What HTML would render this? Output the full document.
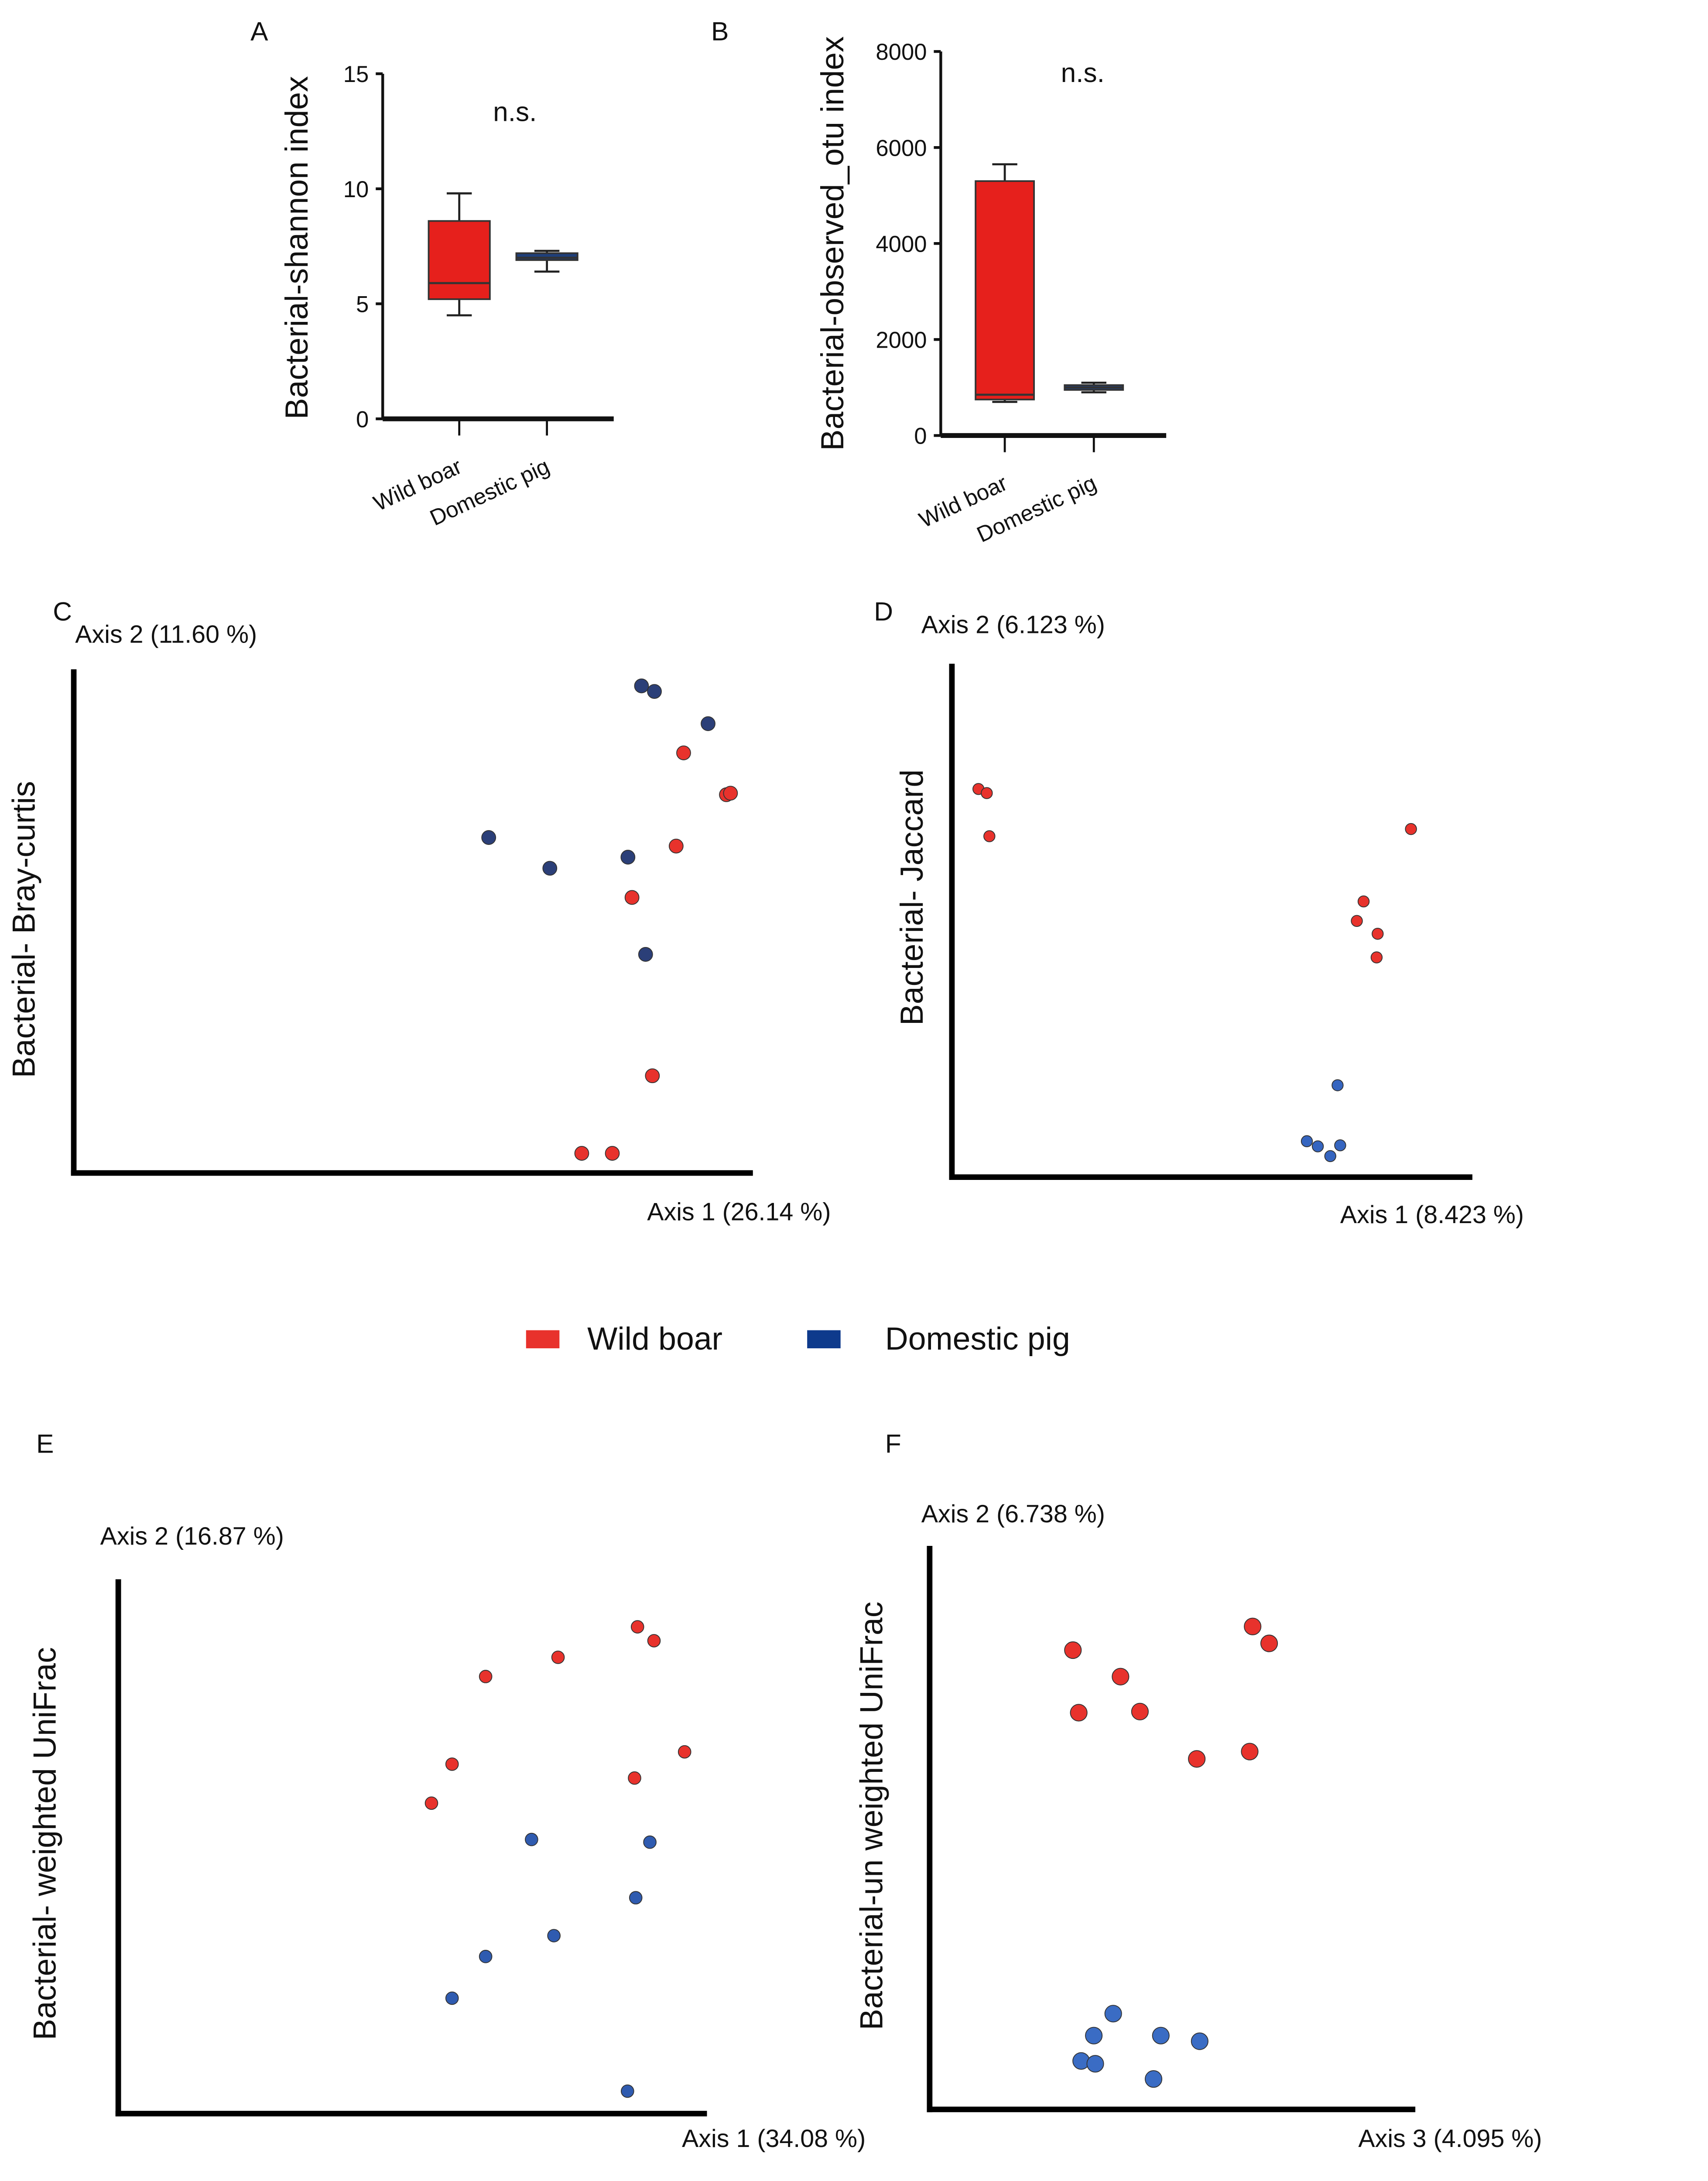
<!DOCTYPE html>
<html><head><meta charset="utf-8">
<style>
html,body{margin:0;padding:0;background:#fff;width:3915px;height:5442px;overflow:hidden;}
svg{display:block;font-family:"Liberation Sans",Arial,sans-serif;}
</style></head>
<body>
<svg id="fig" width="3915" height="5442" viewBox="0 0 1227 1706" preserveAspectRatio="xMinYMin meet" xmlns="http://www.w3.org/2000/svg"></svg>
<script>
// ---- Data ----
const boxCategories = ["Wild boar", "Domestic pig"];
// [min, q1, median, q3, max]
const shannonWild = [4.5, 5.2, 5.9, 8.6, 9.8];
const shannonDomestic = [6.4, 6.9, 7.0, 7.2, 7.3];
const shannonTicks = [0, 5, 10, 15];
const otuWild = [700, 750, 850, 5300, 5650];
const otuDomestic = [900, 950, 1000, 1050, 1100];
const otuTicks = [0, 2000, 4000, 6000, 8000];

const brayWildX = [89.8, 96.1, 96.7, 88.7, 82.2, 85.2, 74.8, 79.3];
const brayWildY = [83.4, 75.1, 75.4, 64.9, 54.7, 19.3, 3.9, 3.9];
const brayDomX = [83.6, 85.5, 93.4, 61.1, 70.1, 81.6, 84.2];
const brayDomY = [96.7, 95.6, 89.2, 66.6, 60.5, 62.7, 43.4];

const jacWildX = [5.1, 6.7, 7.2, 88.2, 79.1, 77.8, 81.8, 81.6];
const jacWildY = [75.6, 74.8, 66.4, 67.8, 53.7, 49.9, 47.4, 42.8];
const jacDomX = [74.1, 68.2, 70.3, 74.6, 72.7];
const jacDomY = [17.9, 7.0, 6.0, 6.2, 4.1];

const wuWildX = [88.2, 91.0, 74.7, 62.4, 96.2, 56.7, 87.7, 53.2];
const wuWildY = [91.1, 88.5, 85.4, 81.8, 67.7, 65.4, 62.8, 58.1];
const wuDomX = [70.2, 90.3, 87.9, 74.0, 62.4, 56.7, 86.5];
const wuDomY = [51.3, 50.8, 40.4, 33.3, 29.4, 21.6, 4.2];

const uuWildX = [29.5, 39.3, 30.7, 43.3, 66.5, 69.9, 65.9, 55.0];
const uuWildY = [81.5, 76.8, 70.4, 70.6, 85.7, 82.7, 63.5, 62.2];
const uuDomX = [37.8, 33.8, 47.6, 55.6, 31.2, 34.1, 46.1];
const uuDomY = [17.0, 13.1, 13.1, 12.1, 8.6, 8.1, 5.4];

const NS = "http://www.w3.org/2000/svg";
const svg = document.getElementById("fig");
function mk(tag, attrs, parent, txt){
  const e = document.createElementNS(NS, tag);
  for (const k in attrs) e.setAttribute(k, attrs[k]);
  if (txt !== undefined) e.textContent = txt;
  (parent || svg).appendChild(e);
  return e;
}
function label(x, y, txt, size, name, anchor, rot){
  const t = mk("text", {x:x, y:y, "font-size":size, fill:"#111", "text-anchor":anchor||"start"}, svg, txt);
  if (rot) t.setAttribute("transform", "rotate(" + rot + " " + x + " " + y + ")");
  
  
  return t;
}

// ---- Box plot panels ----
function boxPanel(o){
  const g = mk("g", {});
  
  
  const ymax = o.ticks[o.ticks.length-1];
  const sy = v => o.y0 - (v / ymax) * (o.y0 - o.y1);
  mk("line", {x1:o.ax, y1:o.y1, x2:o.ax, y2:o.y0, stroke:"#111", "stroke-width":2}, g);
  mk("line", {x1:o.ax, y1:o.y0, x2:o.ax2, y2:o.y0, stroke:"#111", "stroke-width":3.5}, g);
  o.ticks.forEach(t => {
    mk("line", {x1:o.ax-5, y1:sy(t), x2:o.ax, y2:sy(t), stroke:"#111", "stroke-width":2}, g);
    const tl = mk("text", {x:o.ax-10, y:sy(t)+6, "font-size":16.5, "text-anchor":"end", fill:"#111"}, g, String(t));
    
    
  });
  const series = [o.wild, o.dom];
  const fills = ["#e6201c", "#1f3f7a"];
  series.forEach((s, i) => {
    const cx = o.cx[i], hw = o.hw;
    mk("line", {x1:cx, y1:o.y0, x2:cx, y2:o.y0+12, stroke:"#111", "stroke-width":1.5}, g);
    mk("line", {x1:cx, y1:sy(s[0]), x2:cx, y2:sy(s[4]), stroke:"#222", "stroke-width":1.5}, g);
    mk("line", {x1:cx-9, y1:sy(s[0]), x2:cx+9, y2:sy(s[0]), stroke:"#222", "stroke-width":1.5}, g);
    mk("line", {x1:cx-9, y1:sy(s[4]), x2:cx+9, y2:sy(s[4]), stroke:"#222", "stroke-width":1.5}, g);
    const r = mk("rect", {x:cx-hw, y:sy(s[3]), width:2*hw, height:sy(s[1])-sy(s[3]), fill:fills[i], stroke:"#333", "stroke-width":1.2}, g);
    
    
    mk("line", {x1:cx-hw, y1:sy(s[2]), x2:cx+hw, y2:sy(s[2]), stroke:"#333", "stroke-width":1.5}, g);
    const xl = mk("text", {x:cx+3, y:o.y0+38, "font-size":16, "text-anchor":"end", fill:"#111", transform:"rotate(-25 "+(cx+3)+" "+(o.y0+38)+")"}, g, boxCategories[i]);
    
    
  });
}
boxPanel({name:"shannon-boxplot", ax:275, ax2:441, y0:301, y1:53, ticks:shannonTicks, wild:shannonWild, dom:shannonDomestic, cx:[330,393], hw:22});
boxPanel({name:"otu-boxplot", ax:676, ax2:838, y0:313, y1:37, ticks:otuTicks, wild:otuWild, dom:otuDomestic, cx:[722,786], hw:21});
label(180, 29, "A", 19, "panel-label-a");
label(511, 29, "B", 19, "panel-label-b");
label(370, 87, "n.s.", 19.5, "significance-a", "middle");
label(778, 59, "n.s.", 19.5, "significance-b", "middle");
label(221, 178, "Bacterial-shannon index", 23, "y-axis-title-shannon", "middle", -90);
label(606, 175, "Bacterial-observed_otu index", 23, "y-axis-title-otu", "middle", -90);

// ---- Scatter panels ----
function scatter(o){
  const g = mk("g", {});
  
  
  const sx = v => o.x0 + v/100 * (o.x1 - o.x0);
  const sy = v => o.y0 - v/100 * (o.y0 - o.y1);
  mk("line", {x1:o.x0, y1:o.y1, x2:o.x0, y2:o.y0+2, stroke:"#000", "stroke-width":4}, g);
  mk("line", {x1:o.x0-2, y1:o.y0, x2:o.x1, y2:o.y0, stroke:"#000", "stroke-width":4}, g);
  [[o.wx,o.wy,"#e8322c","wild-boar-point"],[o.dx,o.dy,o.blue,"domestic-pig-point"]].forEach(s => {
    s[0].forEach((v, i) => {
      const c = mk("circle", {cx:sx(v), cy:sy(s[1][i]), r:o.r, fill:s[2], stroke:"#333", "stroke-width":0.6}, g);
      
      
    });
  });
}
scatter({name:"bray-curtis-pcoa", x0:53, x1:541, y0:843, y1:481, wx:brayWildX, wy:brayWildY, dx:brayDomX, dy:brayDomY, blue:"#2b3f78", r:5});
scatter({name:"jaccard-pcoa", x0:684, x1:1058, y0:846, y1:477, wx:jacWildX, wy:jacWildY, dx:jacDomX, dy:jacDomY, blue:"#3565c0", r:4});
scatter({name:"weighted-unifrac-pcoa", x0:85, x1:508, y0:1519, y1:1135, wx:wuWildX, wy:wuWildY, dx:wuDomX, dy:wuDomY, blue:"#2f5bb0", r:4.5});
scatter({name:"unweighted-unifrac-pcoa", x0:668, x1:1017, y0:1516, y1:1111, wx:uuWildX, wy:uuWildY, dx:uuDomX, dy:uuDomY, blue:"#3a6cc4", r:6});

label(38, 446, "C", 19, "panel-label-c");
label(54, 462, "Axis 2 (11.60 %)", 18, "y-axis-title-c");
label(465, 877, "Axis 1 (26.14 %)", 18, "x-axis-title-c");
label(25, 668, "Bacterial- Bray-curtis", 23, "y-label-bray", "middle", -90);
label(628, 446, "D", 19, "panel-label-d");
label(662, 455, "Axis 2 (6.123 %)", 18, "y-axis-title-d");
label(963, 879, "Axis 1 (8.423 %)", 18, "x-axis-title-d");
label(663, 645, "Bacterial- Jaccard", 23, "y-label-jaccard", "middle", -90);
label(26, 1044, "E", 19, "panel-label-e");
label(72, 1110, "Axis 2 (16.87 %)", 18, "y-axis-title-e");
label(490, 1543, "Axis 1 (34.08 %)", 18, "x-axis-title-e");
label(40, 1325, "Bacterial- weighted UniFrac", 23, "y-label-weighted", "middle", -90);
label(636, 1044, "F", 19, "panel-label-f");
label(662, 1094, "Axis 2 (6.738 %)", 18, "y-axis-title-f");
label(976, 1543, "Axis 3 (4.095 %)", 18, "x-axis-title-f");
label(634, 1305, "Bacterial-un weighted UniFrac", 23, "y-label-unweighted", "middle", -90);

// ---- Legend ----
const lr = mk("rect", {x:378, y:956, width:24, height:13, fill:"#e8322c"});


label(422, 970, "Wild boar", 23, "legend-label-wild-boar");
const lb = mk("rect", {x:580, y:956, width:24, height:13, fill:"#0e3a8c"});


label(636, 970, "Domestic pig", 23, "legend-label-domestic-pig");
</script>
</body></html>
